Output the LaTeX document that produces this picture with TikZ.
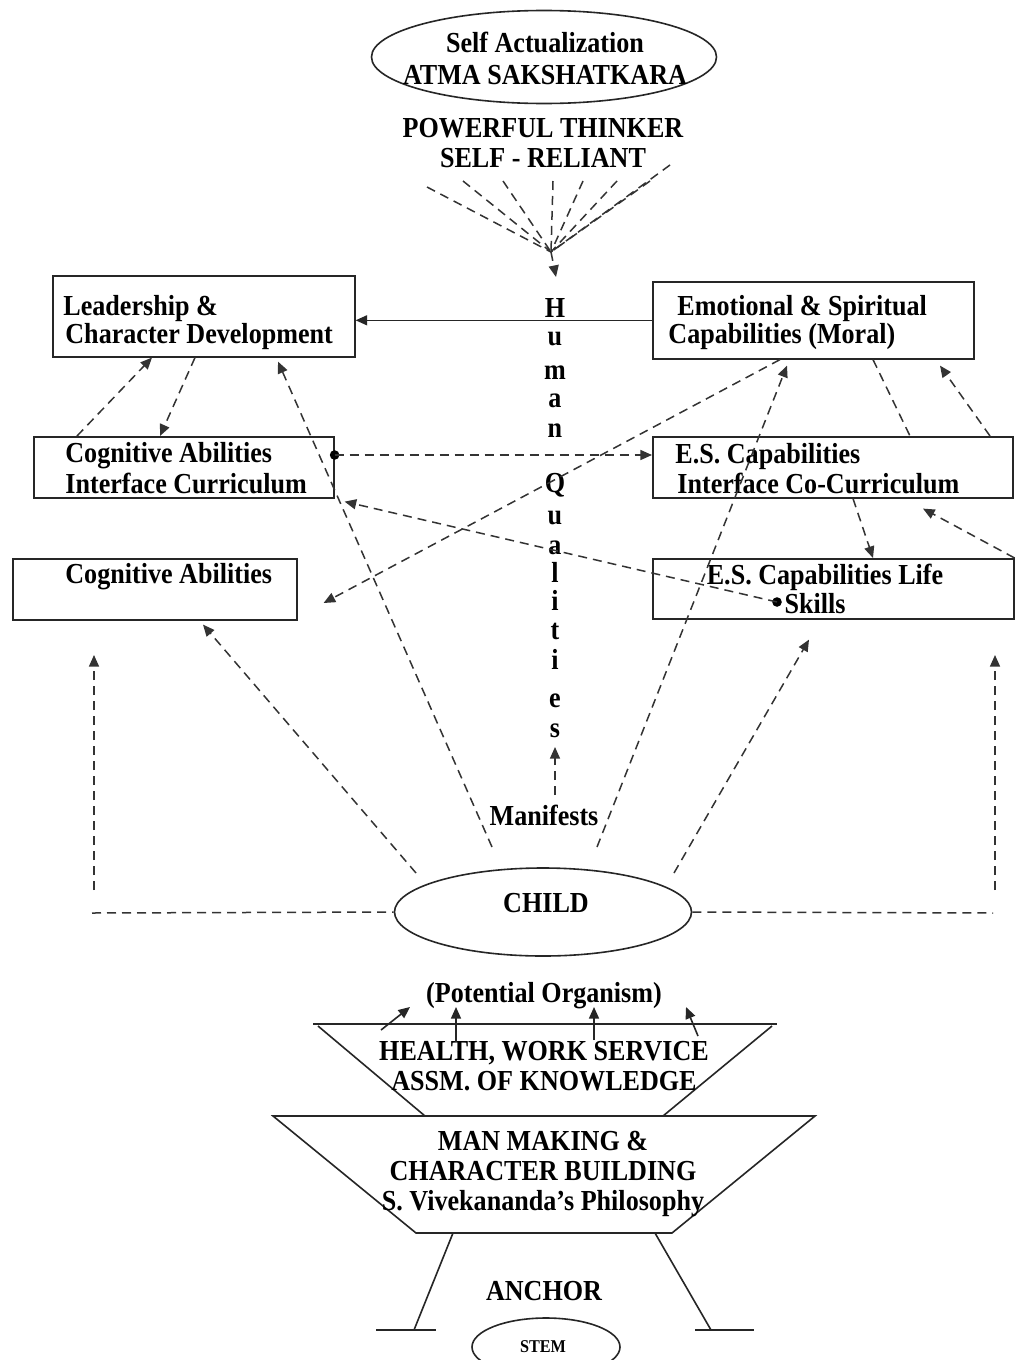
\documentclass[tikz,border=0pt]{standalone}
\usepackage{fontspec}
\setmainfont{Liberation Serif}[FakeStretch=0.9]
\usetikzlibrary{arrows.meta,calc,shapes.geometric}
\begin{document}
\begin{tikzpicture}[x=0.5pt,y=-0.5pt,
  txt/.style={font=\fontsize{14.5}{15}\selectfont\bfseries, inner sep=0pt, anchor=base},
  txtl/.style={txt, anchor=base west},
  box/.style={draw=black!85, line width=0.8pt, rectangle, anchor=north west, inner sep=0pt},
  oval/.style={draw=black!85, line width=0.8pt, ellipse, inner sep=0pt},
  dsh/.style={draw=black!80, line width=0.75pt, dash pattern=on 4.5pt off 3pt},
  sol/.style={draw=black!85, line width=0.8pt},
  tip/.style={-{Triangle[length=5.8pt,width=5pt]}},
  dotmark/.style={fill=black}]
\useasboundingbox (0,0) rectangle (1017,1360);
\clip (0,0) rectangle (1017,1360);
\fill[white] (0,0) rectangle (1017,1360);

% ---------- top ----------
\node[oval, minimum width=172.5pt, minimum height=46.5pt] (sa) at (544,57) {};
\node[txt] (sa1) at (545,53) {Self Actualization};
\node[txt] (sa2) at (545,84) {ATMA SAKSHATKARA};
\node[txt] (pt) at (543,137) {POWERFUL THINKER};
\node[txt] (sr) at (543,167) {SELF - RELIANT};

\coordinate (fanpt) at (551,252);
\foreach \sx/\sy in {427/187, 463/181, 503/181, 553/181, 583/181, 617/181, 650/181, 670/165}
  \draw[dsh] (\sx,\sy) -- (fanpt);
\coordinate (fantip) at (556,277);
\draw[dsh,tip] (fanpt) -- (fantip);

% ---------- boxes ----------
\node[box, minimum width=151pt, minimum height=40.5pt] (lcd) at (52,275) {};
\node[txtl] at (63,315) {Leadership \&};
\node[txtl] at (65,343) {Character Development};

\node[box, minimum width=160.5pt, minimum height=38.5pt] (esc) at (652,281) {};
\node[txtl] at (677,315) {Emotional \& Spiritual};
\node[txtl] at (668,343) {Capabilities (Moral)};

\node[box, minimum width=150pt, minimum height=30.5pt] (caic) at (33,436) {};
\node[txtl] at (65,462) {Cognitive Abilities};
\node[txtl] at (65,493) {Interface Curriculum};

\node[box, minimum width=180pt, minimum height=30.5pt] (esic) at (652,436) {};
\node[txtl] at (675,463) {E.S. Capabilities};
\node[txtl] at (677,493) {Interface Co-Curriculum};

\node[box, minimum width=142pt, minimum height=30.5pt] (ca) at (12,558) {};
\node[txtl] at (65,583) {Cognitive Abilities};

\node[box, minimum width=180.5pt, minimum height=30pt] (esls) at (652,558) {};
\node[txt] at (825,584) {E.S. Capabilities Life};
\node[txt] at (815,613) {Skills};

% ---------- Human Qualities column ----------
\foreach \ch/\yy in {H/317, u/345, m/379, a/407, n/437, Q/492, u/524, a/554, l/582, i/610, t/639, i/669, e/707, s/737}
  \node[txt] at (555,\yy) {\ch};

\node[txt] (man) at (544,825) {Manifests};
\coordinate (hqb) at (555,795);
\coordinate (hqt) at (555,747);
\draw[dsh,tip] (hqb) -- (hqt);

% ---------- child ----------
\node[oval, minimum width=148.5pt, minimum height=44pt] (child) at (543,912) {};
\node[txt] at (546,912) {CHILD};
\node[txt] (po) at (544,1002) {(Potential Organism)};

% ---------- connectors ----------
\draw[sol,tip] (esc.west) -- (esc.west -| lcd.east);

\draw[dsh,tip] ($(caic.north west)+(44,0)$) -- ($(lcd.south west)+(100,0)$);
\draw[dsh,tip] ($(lcd.south west)+(143,0)$) -- ($(caic.north west)+(127,0)$);

\coordinate (m1) at (492,847);
\coordinate (m2) at (597,847);
\coordinate (c1) at (416,873);
\coordinate (c2) at (674,873);
\draw[dsh,tip] (m1) -- ($(lcd.south west)+(226,4)$);
\draw[dsh,tip] (c1) -- ($(ca.south west)+(191,4)$);
\draw[dsh,tip] (m2) -- ($(esc.south west)+(135,6)$);
\draw[dsh,tip] (c2) -- ($(esls.south west)+(157,20)$);

\coordinate (vl) at (94,890); \coordinate (vlt) at (94,655);
\coordinate (vr) at (995,890); \coordinate (vrt) at (995,655);
\draw[dsh,tip] (vl) -- (vlt);
\draw[dsh,tip] (vr) -- (vrt);
\coordinate (hl) at (92,913); \coordinate (hr) at (993,913);
\draw[dsh] (hl) -- (child.west);
\draw[dsh] (child.east) -- (hr);

\coordinate (d1) at ($(caic.north east)+(0,19)$);
\fill[dotmark] (d1) circle (2.4pt);
\draw[dsh,tip] (d1) -- ($(esic.north west)+(0,19)$);

\coordinate (d2) at ($(esls.north west)+(125,44)$);
\fill[dotmark] (d2) circle (2.4pt);
\draw[dsh,tip] (d2) -- ($(caic.south east)+(10,3)$);

\draw[dsh,tip] ($(esc.south west)+(128,0)$) -- ($(ca.north east)+(26,45)$);
\draw[dsh] ($(esc.south west)+(221,0)$) -- ($(esic.north west)+(258,0)$);
\draw[dsh,tip] ($(esic.north west)+(338,0)$) -- ($(esc.south west)+(288,6)$);
\draw[dsh,tip] ($(esic.south west)+(201,0)$) -- ($(esls.north west)+(221,0)$);
\draw[dsh,tip] (esls.north east) -- ($(esic.south west)+(271,10)$);

% ---------- trapezoids ----------
\draw[sol] (313,1024) -- (777,1024);
\draw[sol] (318,1026) -- (425,1116);
\draw[sol] (772,1026) -- (663,1116);
\draw[sol] (273,1116) -- (815,1116) -- (672,1233) -- (416,1233) -- cycle;

\node[txt] at (544,1060) {HEALTH, WORK SERVICE};
\node[txt] at (544,1090) {ASSM. OF KNOWLEDGE};
\node[txt] at (543,1150) {MAN MAKING \&};
\node[txt] at (543,1180) {CHARACTER BUILDING};
\node[txt] at (543,1210) {S. Vivekananda's Philosophy};

\draw[sol,tip] (381,1030) -- (410,1007);
\draw[sol,tip] (456,1042) -- (456,1007);
\draw[sol,tip] (594,1040) -- (594,1007);
\draw[sol,tip] (698,1036) -- (686,1007);

% ---------- anchor ----------
\draw[sol] (453,1233) -- (414,1330);
\draw[sol] (655,1233) -- (711,1330);
\draw[sol] (376,1330) -- (436,1330);
\draw[sol] (695,1330) -- (754,1330);
\node[txt] at (544,1300) {ANCHOR};
\node[oval, minimum width=74pt, minimum height=29pt] (stem) at (546,1347) {};
\node[txt, font=\fontsize{9}{10}\selectfont\bfseries] at (543,1352) {STEM};
\end{tikzpicture}
\end{document}
